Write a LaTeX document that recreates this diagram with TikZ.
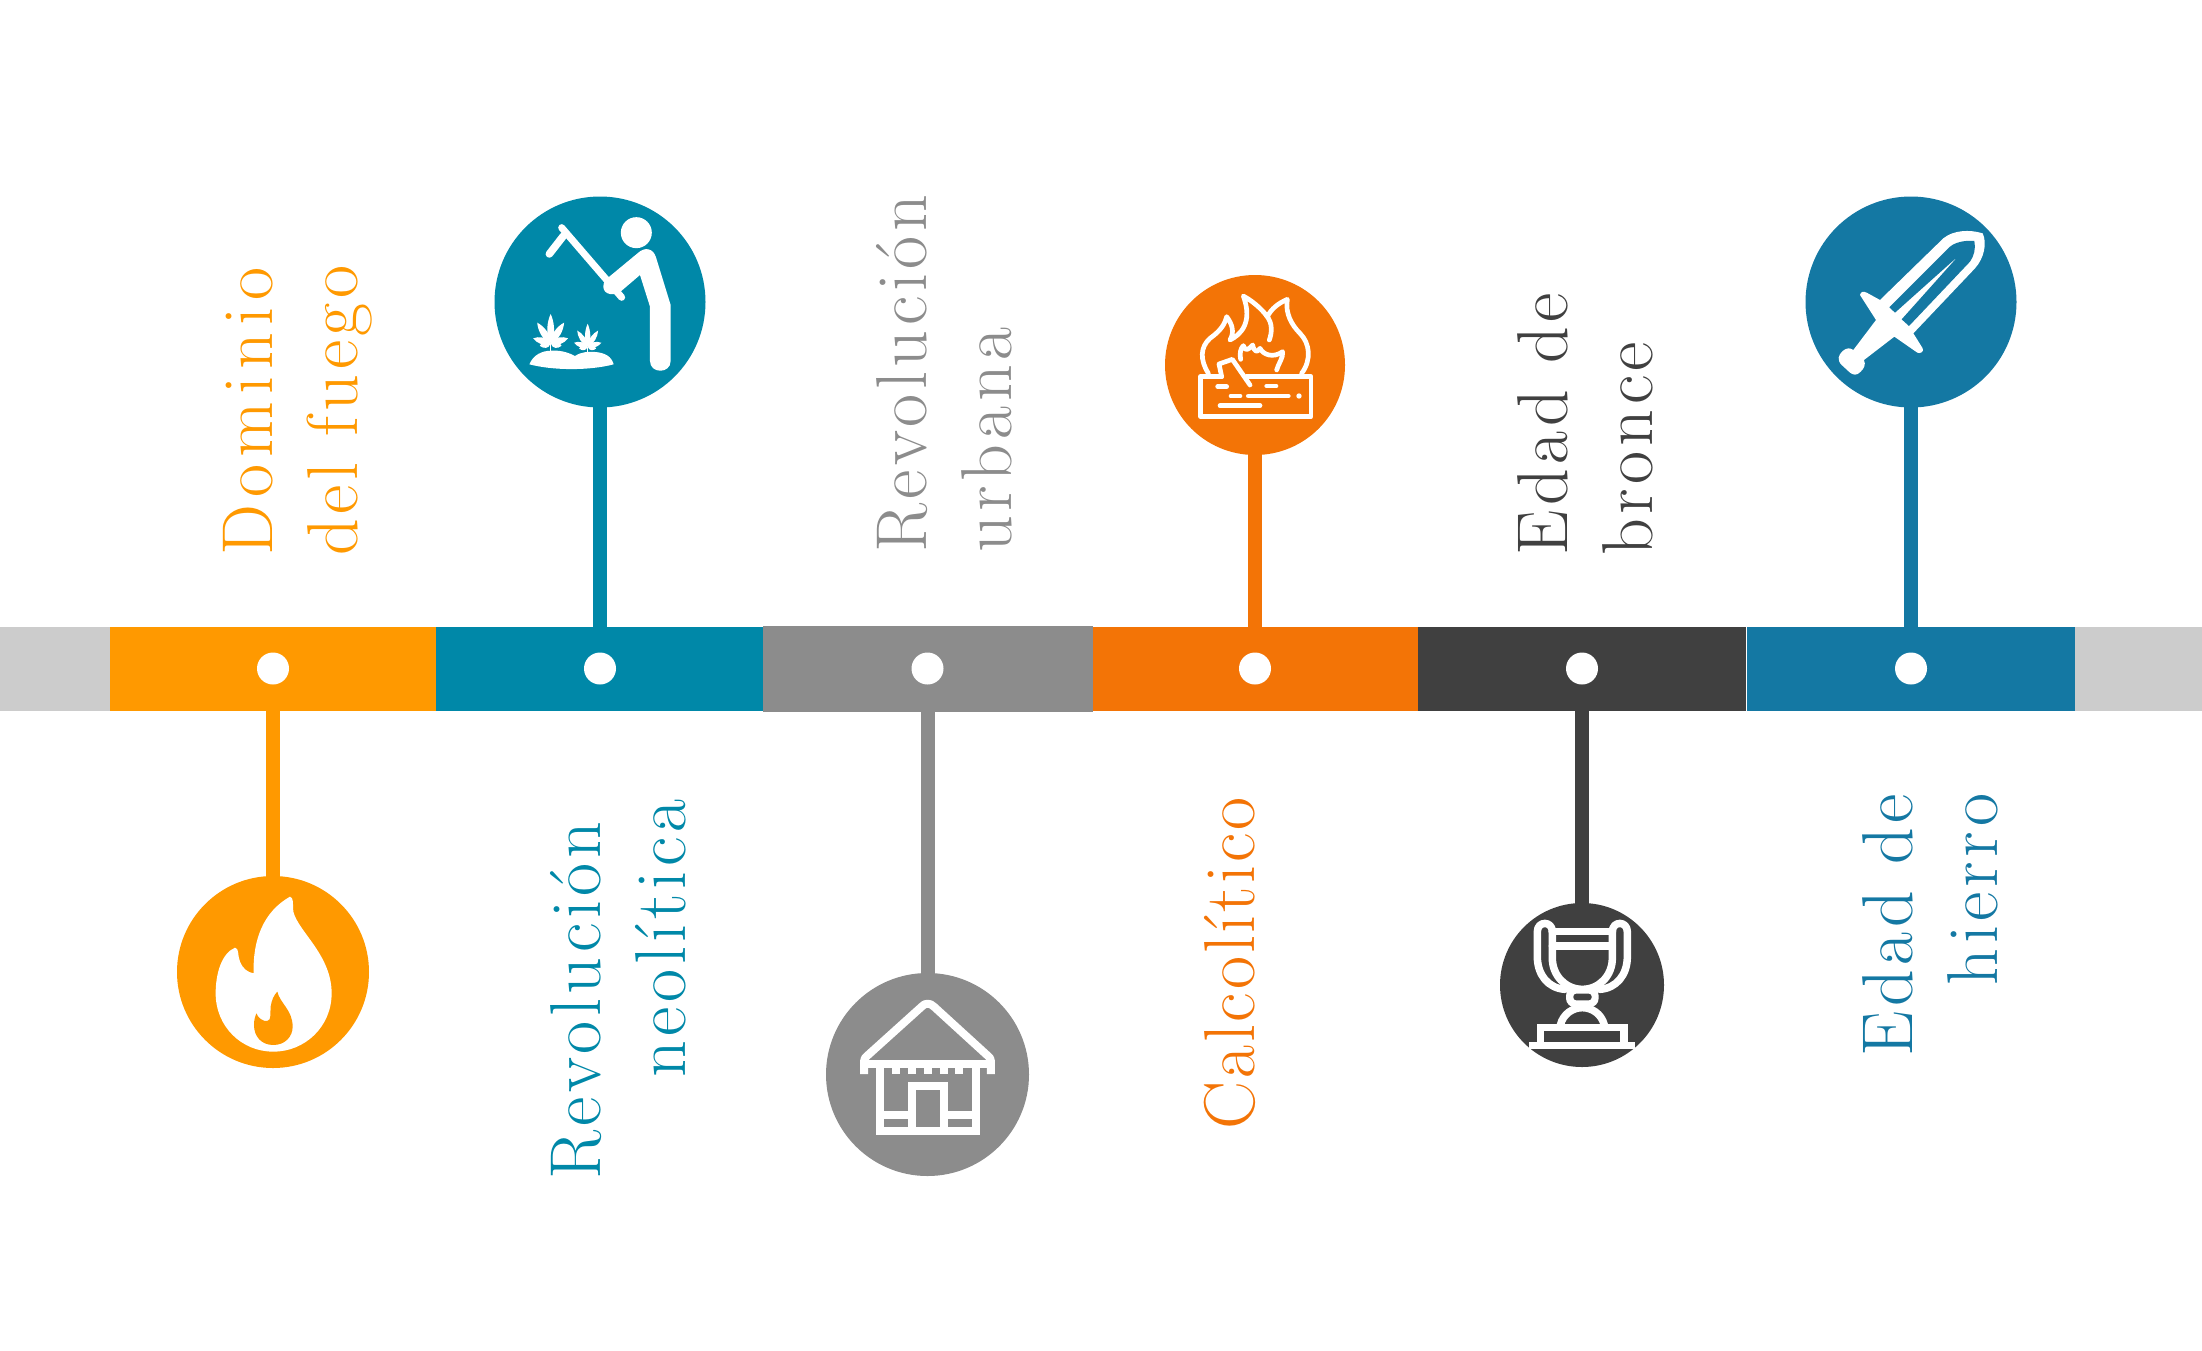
\documentclass[tikz,border=0pt]{standalone}
\usepackage{fontspec}
\setmainfont{Latin Modern Roman}[LetterSpace=6.5]
\usepackage{xcolor}
\usepackage{tikz}

\tikzset{
    segbar/.style={rectangle, inner sep=0pt, minimum height=84pt},
    disco/.style={circle, inner sep=0pt},
    punto/.style={circle, fill=white, inner sep=0pt, minimum size=32pt},
    tallo/.style={line width=14pt},
    etiqueta/.style={rotate=90, anchor=base west, inner sep=0pt, align=left, font=\fontsize{72}{85}\selectfont},
    trazo/.style={white, line width=#1, line cap=round, line join=round}
}

\newcommand{\planta}[3]{
        \foreach \ang/\len in {0/1,-33/0.84,33/0.84,-74/0.62,74/0.62,-103/0.38,103/0.38}{
            \fill[white, shift={(#1,#2)}, rotate=\ang, scale=#3] (0,0) .. controls (16,-25*\len) and (11,-65*\len) .. (0,-88*\len) .. controls (-11,-65*\len) and (-16,-25*\len) .. (0,0);
        }
        \draw[white, line width=1.5pt] (#1,#2) -- (#1,#2+24*#3);
}

\begin{document}
\begin{tikzpicture}[x=1pt, y=-1pt]
        \colorlet{grisClaro}{black!20}
        \definecolor{colorFuego}{HTML}{FF9900}
        \definecolor{colorNeolitica}{HTML}{0088A8}
        \definecolor{colorUrbana}{HTML}{8C8C8C}
        \definecolor{colorCalco}{HTML}{F37406}
        \definecolor{colorBronce}{HTML}{404040}
        \definecolor{colorHierro}{HTML}{1478A3}
        \useasboundingbox (0,0) rectangle (2202,1350);

        \node[segbar, fill=grisClaro, minimum width=110pt] (segIzq) at (55,668.5) {};
        \node[segbar, fill=grisClaro, minimum width=127pt] (segDer) at (2138.5,668.5) {};
        \node[segbar, fill=colorFuego, minimum width=326pt] (segFuego) at (273,668.5) {};
        \node[segbar, fill=colorNeolitica, minimum width=328pt] (segNeolitica) at (600,668.5) {};
        \node[segbar, fill=colorCalco, minimum width=328pt] (segCalco) at (1255,668.5) {};
        \node[segbar, fill=colorUrbana, minimum width=330pt, minimum height=86pt] (segUrbana) at (927.5,668.5) {};
        \node[segbar, fill=colorBronce, minimum width=328pt] (segBronce) at (1582,668.5) {};
        \node[segbar, fill=colorHierro, minimum width=328pt] (segHierro) at (1911,668.5) {};

        \node[disco, fill=colorFuego, minimum size=192pt] (circFuego) at (273,972) {};
        \node[disco, fill=colorNeolitica, minimum size=211pt] (circNeolitica) at (600,302) {};
        \node[disco, fill=colorUrbana, minimum size=203pt] (circUrbana) at (927.5,1074.5) {};
        \node[disco, fill=colorCalco, minimum size=180pt] (circCalco) at (1255,365) {};
        \node[disco, fill=colorBronce, minimum size=164pt] (circBronce) at (1582,985) {};
        \node[disco, fill=colorHierro, minimum size=211pt] (circHierro) at (1911,302) {};

        \draw[tallo, colorFuego] (segFuego.center) -- (circFuego.center);
        \draw[tallo, colorNeolitica] (segNeolitica.center) -- (circNeolitica.center);
        \draw[tallo, colorUrbana] (segUrbana.center) -- (circUrbana.center);
        \draw[tallo, colorCalco] (segCalco.center) -- (circCalco.center);
        \draw[tallo, colorBronce] (segBronce.center) -- (circBronce.center);
        \draw[tallo, colorHierro] (segHierro.center) -- (circHierro.center);

        \node[punto] (ptoFuego) at (segFuego) {};
        \node[punto] (ptoNeolitica) at (segNeolitica) {};
        \node[punto] (ptoUrbana) at (segUrbana) {};
        \node[punto] (ptoCalco) at (segCalco) {};
        \node[punto] (ptoBronce) at (segBronce) {};
        \node[punto] (ptoHierro) at (segHierro) {};

        \node[etiqueta, text=colorFuego] (txtFuego) at (357,556) {{\addfontfeature{LetterSpace=10}Dominio}\\del fuego};
        \node[etiqueta, text=colorNeolitica] (txtNeolitica) at (685,1180) {Revolución\\\hspace*{102pt}neolítica};
        \node[etiqueta, text=colorUrbana] (txtUrbana) at (1011,553) {Revolución\\urbana};
        \node[etiqueta, text=colorCalco] (txtCalco) at (1254,1130) {\addfontfeature{LetterSpace=4}Calcolítico};
        \node[etiqueta, text=colorBronce] (txtBronce) at (1652,556) {Edad de\\bronce};
        \node[etiqueta, text=colorHierro, align=right] (txtHierro) at (1997,1057) {Edad de\\hierro};

        \begin{scope}[shift={(150,840)}, x=0.3333pt, y=-0.3333pt]
            \fill[white] (420,170) .. controls (432,172) and (428,195) .. (430,215) .. controls (445,275) and (545,345) .. (545,460) .. controls (545,560) and (465,635) .. (370,635) .. controls (275,635) and (197,560) .. (197,460) .. controls (197,400) and (215,340) .. (255,323) .. controls (268,325) and (262,345) .. (270,365) .. controls (278,385) and (292,397) .. (311,400) .. controls (308,300) and (340,215) .. (420,170) -- cycle;
            \fill[colorFuego] (382,455) .. controls (390,490) and (428,510) .. (428,560) .. controls (428,590) and (405,615) .. (370,615) .. controls (335,615) and (312,590) .. (312,555) .. controls (312,540) and (315,530) .. (319,520) .. controls (325,535) and (340,545) .. (352,543) .. controls (365,540) and (360,520) .. (362,500) .. controls (365,480) and (372,465) .. (382,455) -- cycle;
        \end{scope}

        \begin{scope}[shift={(480,180)}, x=0.3333pt, y=-0.3333pt]
            \fill[white] (469,158) circle (15.5pt);
            \fill[white] (572,375) -- (572,543) .. controls (572,582) and (510,582) .. (510,543) -- (510,380) -- (480,285) -- (425,332) .. controls (405,350) and (370,345) .. (370,320) .. controls (370,305) and (378,298) .. (388,290) -- (475,218) .. controls (495,200) and (520,205) .. (528,232) -- cycle;
            \draw[trazo=7pt] (245,143) -- (425,352);
            \draw[trazo=7.5pt] (250,168) -- (208,222);
            \fill[white] (148,553) .. controls (160,525) and (185,512) .. (215,512) .. controls (245,510) and (270,520) .. (285,528) .. controls (305,515) and (325,515) .. (345,516) .. controls (375,518) and (395,530) .. (401,553) .. controls (330,572) and (220,572) .. (148,553) -- cycle;
            \planta{212}{490}{1}
            \planta{323}{500}{0.78}
        \end{scope}

        \begin{scope}[shift={(810,960)}, x=0.3333pt, y=-0.3333pt]
            \draw[trazo=8pt, line cap=butt] (162,342) -- (162,305) .. controls (162,297) and (165,292) .. (172,287) -- (335,140) .. controls (345,128) and (360,128) .. (372,140) -- (533,287) .. controls (540,292) and (543,297) .. (543,305) -- (543,342);
            \draw[trazo=8pt, line cap=butt] (160,312) -- (545,312);
            \foreach \xd in {257,306,353,401,448}{
                \draw[trazo=8pt, line cap=butt] (\xd,320) -- (\xd,342);
            }
            \draw[trazo=8pt, line cap=butt, line join=miter] (210,320) -- (210,514) -- (497,514) -- (497,320);
            \draw[trazo=8pt, line cap=butt, line join=miter] (305,514) -- (305,377) -- (402,377) -- (402,514);
            \draw[trazo=8pt, line cap=butt] (210,465) -- (305,465);
            \draw[trazo=8pt, line cap=butt] (402,465) -- (497,465);
        \end{scope}

        \begin{scope}[shift={(1150,260)}, x=0.3333pt, y=-0.3333pt]
            \draw[trazo=4.7pt] (215,350) -- (152,350) -- (152,470) -- (483,470) -- (483,350) -- (290,350);
            \draw[trazo=4.7pt] (215,350) -- (207,312) -- (247,298) -- (300,375);
            \draw[trazo=4.7pt] (175,340) .. controls (150,300) and (150,262) .. (180,235) .. controls (215,210) and (225,190) .. (230,170) .. controls (245,190) and (255,215) .. (240,240) .. controls (270,225) and (310,190) .. (280,108) .. controls (320,130) and (345,160) .. (352,170) .. controls (365,145) and (385,130) .. (412,118) .. controls (405,160) and (425,195) .. (450,220) .. controls (480,250) and (485,300) .. (455,340);
            \draw[trazo=4.7pt] (348,165) .. controls (370,190) and (365,220) .. (358,240);
            \draw[trazo=4.7pt] (272,298) .. controls (268,280) and (272,265) .. (280,257) .. controls (285,275) and (295,270) .. (308,255) .. controls (312,275) and (322,280) .. (330,265) .. controls (340,285) and (370,295) .. (398,275) .. controls (400,295) and (385,310) .. (380,330);
            \draw[trazo=4.7pt] (203,380) -- (230,380);
            \draw[trazo=4.7pt] (350,378) -- (378,378);
            \draw[trazo=4.7pt] (243,408) -- (270,408);
            \draw[trazo=4.7pt] (295,408) -- (415,408);
            \draw[trazo=4.7pt] (210,437) -- (330,437);
            \fill[white] (447,408) circle (2.7pt);
        \end{scope}

        \begin{scope}[shift={(1480,890)}, x=0.3333pt, y=-0.3333pt]
            \draw[trazo=7.5pt] (217,125) .. controls (217,92) and (172,92) .. (172,125) -- (172,200) .. controls (172,255) and (205,295) .. (255,298);
            \draw[trazo=7.5pt] (397,125) .. controls (397,92) and (442,92) .. (442,125) -- (442,200) .. controls (442,255) and (409,295) .. (359,298);
            \draw[trazo=7.5pt] (217,125) -- (397,125);
            \draw[trazo=7.5pt] (217,168) -- (397,168);
            \draw[trazo=7.5pt] (217,125) -- (217,205) .. controls (217,255) and (255,298) .. (307,298) .. controls (359,298) and (397,255) .. (397,205) -- (397,125);
            \fill[white, rounded corners=9pt] (258,290) rectangle (356,352);
            \fill[colorBronce, rounded corners=3pt] (280,311) rectangle (335,331);
            \draw[trazo=7.5pt] (241,405) .. controls (250,370) and (280,353) .. (307,353) .. controls (334,353) and (364,370) .. (373,405);
            \draw[trazo=7.5pt, line cap=butt, line join=miter] (181,466) -- (181,413) -- (432,413) -- (432,466);
            \draw[trazo=7.5pt, line cap=butt] (148,466) -- (466,466);
        \end{scope}

        \begin{scope}[shift={(1790,180)}, x=0.3333pt, y=-0.3333pt]
            \fill[white] (210,345) .. controls (212,335) and (220,333) .. (230,338) -- (270,360) -- (460,175) .. controls (490,150) and (540,148) .. (578,160) .. controls (592,190) and (582,235) .. (555,265) -- (370,460) -- (398,505) .. controls (402,515) and (392,522) .. (382,518) -- (313,470) -- (222,540) .. controls (228,555) and (222,565) .. (212,575) .. controls (200,588) and (190,585) .. (180,578) -- (155,555) .. controls (140,540) and (145,525) .. (158,513) .. controls (170,503) and (180,503) .. (190,510) -- (258,420) -- cycle;
            \fill[colorHierro] (298,382) -- (475,205) .. controls (490,187) and (525,180) .. (553,183) .. controls (558,205) and (552,228) .. (540,245) -- (357,438) -- (335,418) -- (505,228) -- (315,398) -- cycle;
        \end{scope}
\end{tikzpicture}
\end{document}
